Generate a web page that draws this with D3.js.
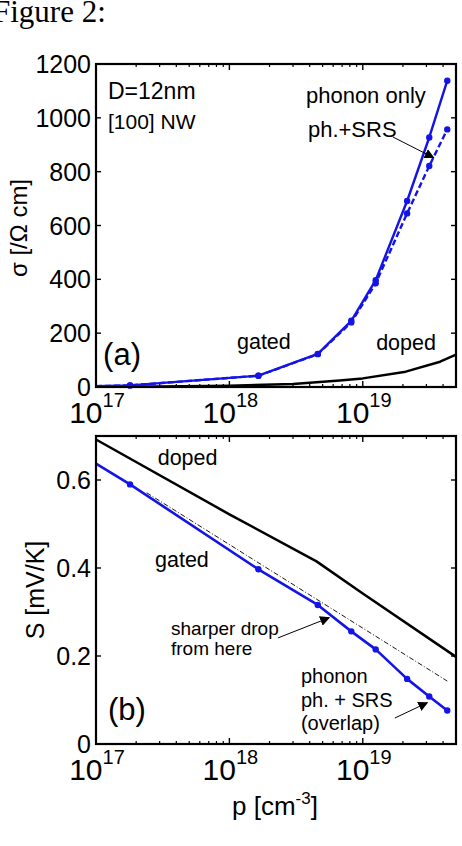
<!DOCTYPE html>
<html><head><meta charset="utf-8">
<script src="https://cdn.jsdelivr.net/npm/d3@7"></script>
<style>
body{margin:0;background:#fff;}
svg{display:block;}
text{font-family:"Liberation Sans",Arial,sans-serif;fill:#000;}
</style></head>
<body>
<script>
// ---------- data ----------
const pGated   = [1e17, 1.8e17, 1.65e18, 4.6e18, 8.2e18, 1.25e19, 2.15e19, 3.15e19, 4.3e19];
const sigPhonon= [3, 6, 42, 123, 246, 397, 691, 927, 1138];
const sigSRS   = [3, 6, 42, 122, 240, 385, 645, 821, 957];
const pDoped   = [1e17, 3e17, 1e18, 3e18, 6.7e18, 1e19, 2.1e19, 3.8e19, 5e19];
const sigDoped = [1, 2, 5, 11, 24, 32, 57, 94, 120];
const pDopedS  = [1e17, 1e18, 4.5e18, 1e19, 5e19];
const SDoped   = [0.692, 0.522, 0.415, 0.342, 0.198];
const SGated   = [0.637, 0.59, 0.397, 0.316, 0.256, 0.215, 0.148, 0.108, 0.076];
const pRef     = [2.4e17, 4.3e19];
const SRef     = [0.571, 0.143];
const xTicks   = [1e17, 1e18, 1e19];
const xTickExp = ["17", "18", "19"];
const sigTicks = [0, 200, 400, 600, 800, 1000, 1200];
const STicks   = [0, 0.2, 0.4, 0.6];

const W = 462, H = 846;
const svg = d3.select("body").append("svg").attr("width", W).attr("height", H);
const BLUE = "#1414e6";

svg.append("text").attr("x", -7).attr("y", 22)
  .style("font-family", "'Liberation Serif','Times New Roman',serif").style("font-size", "31px")
  .text("Figure 2:");

svg.append("defs").append("marker").attr("id", "ah")
  .attr("viewBox", "0 0 10 10").attr("refX", 9).attr("refY", 5)
  .attr("markerWidth", 10).attr("markerHeight", 10).attr("markerUnits", "userSpaceOnUse")
  .attr("orient", "auto")
  .append("path").attr("d", "M0,0 L10,5 L0,10 z").attr("fill", "#000");

function panel(cfg) {
  const x = d3.scaleLog().domain([1e17, 5e19]).range([96, 456]);
  const y = d3.scaleLinear().domain(cfg.ydom).range([cfg.bottom, cfg.top]);
  const g = svg.append("g");
  const [x0, x1] = x.range(), [yb, yt] = y.range();

  const minors = [];
  for (let e = 17; e <= 19; e++) for (let m = 2; m <= 9; m++) { const v = m * Math.pow(10, e); if (v < 5e19) minors.push(v); }
  minors.forEach(v => {
    g.append("line").attr("x1", x(v)).attr("x2", x(v)).attr("y1", yb).attr("y2", yb - 3).attr("stroke", "#000").attr("stroke-width", 1.2);
    g.append("line").attr("x1", x(v)).attr("x2", x(v)).attr("y1", yt).attr("y2", yt + 3).attr("stroke", "#000").attr("stroke-width", 1.2);
  });
  xTicks.forEach((v, i) => {
    g.append("line").attr("x1", x(v)).attr("x2", x(v)).attr("y1", yb).attr("y2", yb - 6).attr("stroke", "#000").attr("stroke-width", 1.4);
    g.append("line").attr("x1", x(v)).attr("x2", x(v)).attr("y1", yt).attr("y2", yt + 6).attr("stroke", "#000").attr("stroke-width", 1.4);
    const t = g.append("text").attr("x", x(v) + 1).attr("y", yb + 36).attr("text-anchor", "middle").style("font-size", "30px");
    t.append("tspan").text("10");
    t.append("tspan").attr("dy", -16).style("font-size", "20px").text(xTickExp[i]);
  });
  cfg.yticks.forEach(v => {
    g.append("line").attr("x1", x0).attr("x2", x0 + 5).attr("y1", y(v)).attr("y2", y(v)).attr("stroke", "#000").attr("stroke-width", 1.4);
    g.append("line").attr("x1", x1).attr("x2", x1 - 5).attr("y1", y(v)).attr("y2", y(v)).attr("stroke", "#000").attr("stroke-width", 1.4);
    g.append("text").attr("x", x0 - 5).attr("y", y(v) + 9).attr("text-anchor", "end").style("font-size", "25px").text(cfg.fmt(v));
  });
  return {x, y, g};
}

function frame(p) {
  const [x0, x1] = p.x.range(), [yb, yt] = p.y.range();
  p.g.append("rect").attr("x", x0).attr("y", yt).attr("width", x1 - x0).attr("height", yb - yt)
    .attr("fill", "none").attr("stroke", "#000").attr("stroke-width", 2.2);
}

function drawLine(p, xs, ys, opt) {
  const pts = xs.map((v, i) => [v, ys[i]]);
  const path = p.g.append("path").datum(pts)
    .attr("d", d3.line().x(d => p.x(d[0])).y(d => p.y(d[1])))
    .attr("fill", "none").attr("stroke", opt.color).attr("stroke-width", opt.width)
    .attr("stroke-linejoin", "round");
  if (opt.dash) path.attr("stroke-dasharray", opt.dash);
  if (opt.markers) {
    p.g.selectAll(null).data(pts.slice(1)).enter().append("circle")
      .attr("cx", d => p.x(d[0])).attr("cy", d => p.y(d[1])).attr("r", 3.2).attr("fill", opt.color);
  }
}

function label(p, px, val, txt, size) {
  return p.g.append("text").attr("x", p.x(px)).attr("y", p.y(val)).style("font-size", size + "px").text(txt);
}
function arrow(p, a, b) {
  p.g.append("line").attr("x1", p.x(a[0])).attr("y1", p.y(a[1])).attr("x2", p.x(b[0])).attr("y2", p.y(b[1]))
    .attr("stroke", "#000").attr("stroke-width", 1).attr("marker-end", "url(#ah)");
}

// ---------- panel (a) ----------
const A = panel({ydom: [0, 1200], top: 64, bottom: 387, yticks: sigTicks, fmt: d => String(d)});
drawLine(A, pDoped, sigDoped, {color: "#000", width: 2.5});
drawLine(A, pGated, sigSRS, {color: BLUE, width: 2.4, dash: "6,3", markers: true});
drawLine(A, pGated, sigPhonon, {color: BLUE, width: 2.4, markers: true});
frame(A);
label(A, 1.23e17, 1070, "D=12nm", 23);
label(A, 1.23e17, 958, "[100] NW", 21);
label(A, 3.75e18, 1055, "phonon only", 22);
label(A, 3.88e18, 929, "ph.+SRS", 22);
arrow(A, [1.68e19, 929], [3.4e19, 852]);
label(A, 1.14e18, 141, "gated", 21.5);
label(A, 1.26e19, 137, "doped", 21.5);
label(A, 1.13e17, 82, "(a)", 31);
svg.append("text").attr("transform", "translate(27,228) rotate(-90)").attr("text-anchor", "middle")
  .style("font-size", "24px").text("σ [/Ω cm]");

// ---------- panel (b) ----------
const B = panel({ydom: [0, 0.7], top: 436, bottom: 744, yticks: STicks, fmt: d => d === 0 ? "0" : d3.format(".1f")(d)});
drawLine(B, pDopedS, SDoped, {color: "#000", width: 2.5});
drawLine(B, pRef, SRef, {color: "#000", width: 0.9, dash: "5,2,1,2"});
drawLine(B, pGated, SGated, {color: BLUE, width: 2.6, markers: true});
frame(B);
label(B, 2.9e17, 0.634, "doped", 21.5);
label(B, 2.77e17, 0.402, "gated", 21.5);
label(B, 3.65e17, 0.248, "sharper drop", 19);
label(B, 3.65e17, 0.202, "from here", 19);
arrow(B, [2.31e18, 0.241], [5.6e18, 0.287]);
label(B, 3.44e18, 0.139, "phonon", 20);
label(B, 3.44e18, 0.084, "ph. + SRS", 20);
label(B, 3.44e18, 0.032, "(overlap)", 20);
arrow(B, [1.74e19, 0.059], [3.05e19, 0.094]);
label(B, 1.23e17, 0.055, "(b)", 31);
svg.append("text").attr("transform", "translate(44,590) rotate(-90)").attr("text-anchor", "middle")
  .style("font-size", "25px").text("S [mV/K]");

const xl = svg.append("text").attr("x", 275).attr("y", 815).attr("text-anchor", "middle").style("font-size", "26px");
xl.append("tspan").text("p [cm");
xl.append("tspan").attr("dy", -11).style("font-size", "17px").text("-3");
xl.append("tspan").attr("dy", 11).text("]");
</script>
</body></html>
